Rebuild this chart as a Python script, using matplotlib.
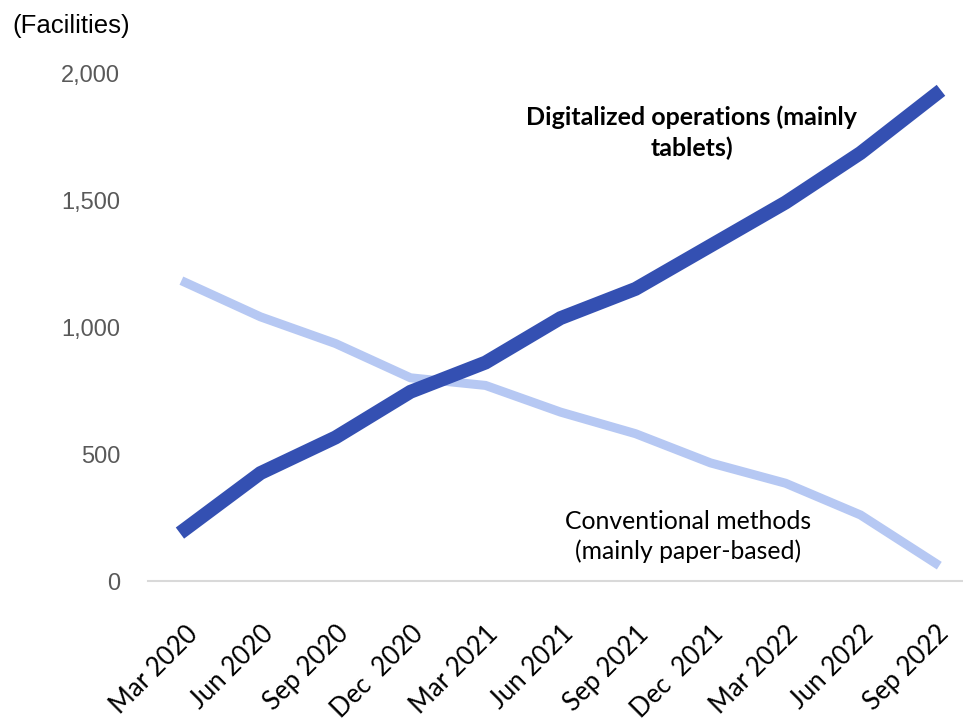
import matplotlib.pyplot as plt

# Quarterly facility counts
quarters = ['Mar 2020', 'Jun 2020', 'Sep 2020', 'Dec  2020', 'Mar 2021', 'Jun 2021',
            'Sep 2021', 'Dec  2021', 'Mar 2022', 'Jun 2022', 'Sep 2022']
digital = [205, 425, 565, 745, 860, 1035, 1150, 1320, 1490, 1685, 1915]
paper = [1175, 1040, 935, 800, 770, 665, 580, 465, 385, 260, 70]
y_ticks = [0, 500, 1000, 1500, 2000]

W, H = 963, 728
fig = plt.figure(figsize=(W / 100, H / 100), dpi=100)
# axes placed in pixel terms: x from 148 to 963, y from 73 (2,000) to 581 (0)
ax = fig.add_axes([148 / W, 1 - 581 / H, (963 - 148) / W, (581 - 73) / H])

x = range(len(quarters))
ax.plot(x, paper, color='#b6c8f3', lw=6.5, solid_joinstyle='miter', clip_on=False, zorder=2)
ax.plot(x, digital, color='#3450b2', lw=10, solid_joinstyle='miter', clip_on=False, zorder=3)

ax.set_xlim(-0.5, (963 - 148) / 75 - 0.5)
ax.set_ylim(0, 2000)
ax.set_yticks(y_ticks)
ax.set_yticklabels([f'{v:,}' for v in y_ticks], fontsize=17, color='#595959',
                   family='Liberation Sans')
ax.set_xticks(list(x))
ax.set_xticklabels(quarters, rotation=45, ha='right', rotation_mode='anchor',
                   fontsize=18.5, family='Lato', color='black')
ax.tick_params(axis='y', length=0, pad=20)
ax.tick_params(axis='x', length=0, pad=29)

for side in ['top', 'right', 'left']:
    ax.spines[side].set_visible(False)
ax.spines['bottom'].set_color('#d9d9d9')
ax.spines['bottom'].set_linewidth(1.5)

fig.text(12 / W, 1 - 26 / H, '(Facilities)', fontsize=18.5, family='Liberation Sans',
         va='center', ha='left')

ax.text(6.75, 1765, 'Digitalized operations (mainly\ntablets)', fontsize=18,
        family='Lato', weight='bold', ha='center', va='center', linespacing=1.35)
ax.text(6.7, 175, 'Conventional methods\n(mainly paper-based)', fontsize=17.8,
        family='Lato', ha='center', va='center', linespacing=1.3)

fig.savefig('out.png', dpi=100)
